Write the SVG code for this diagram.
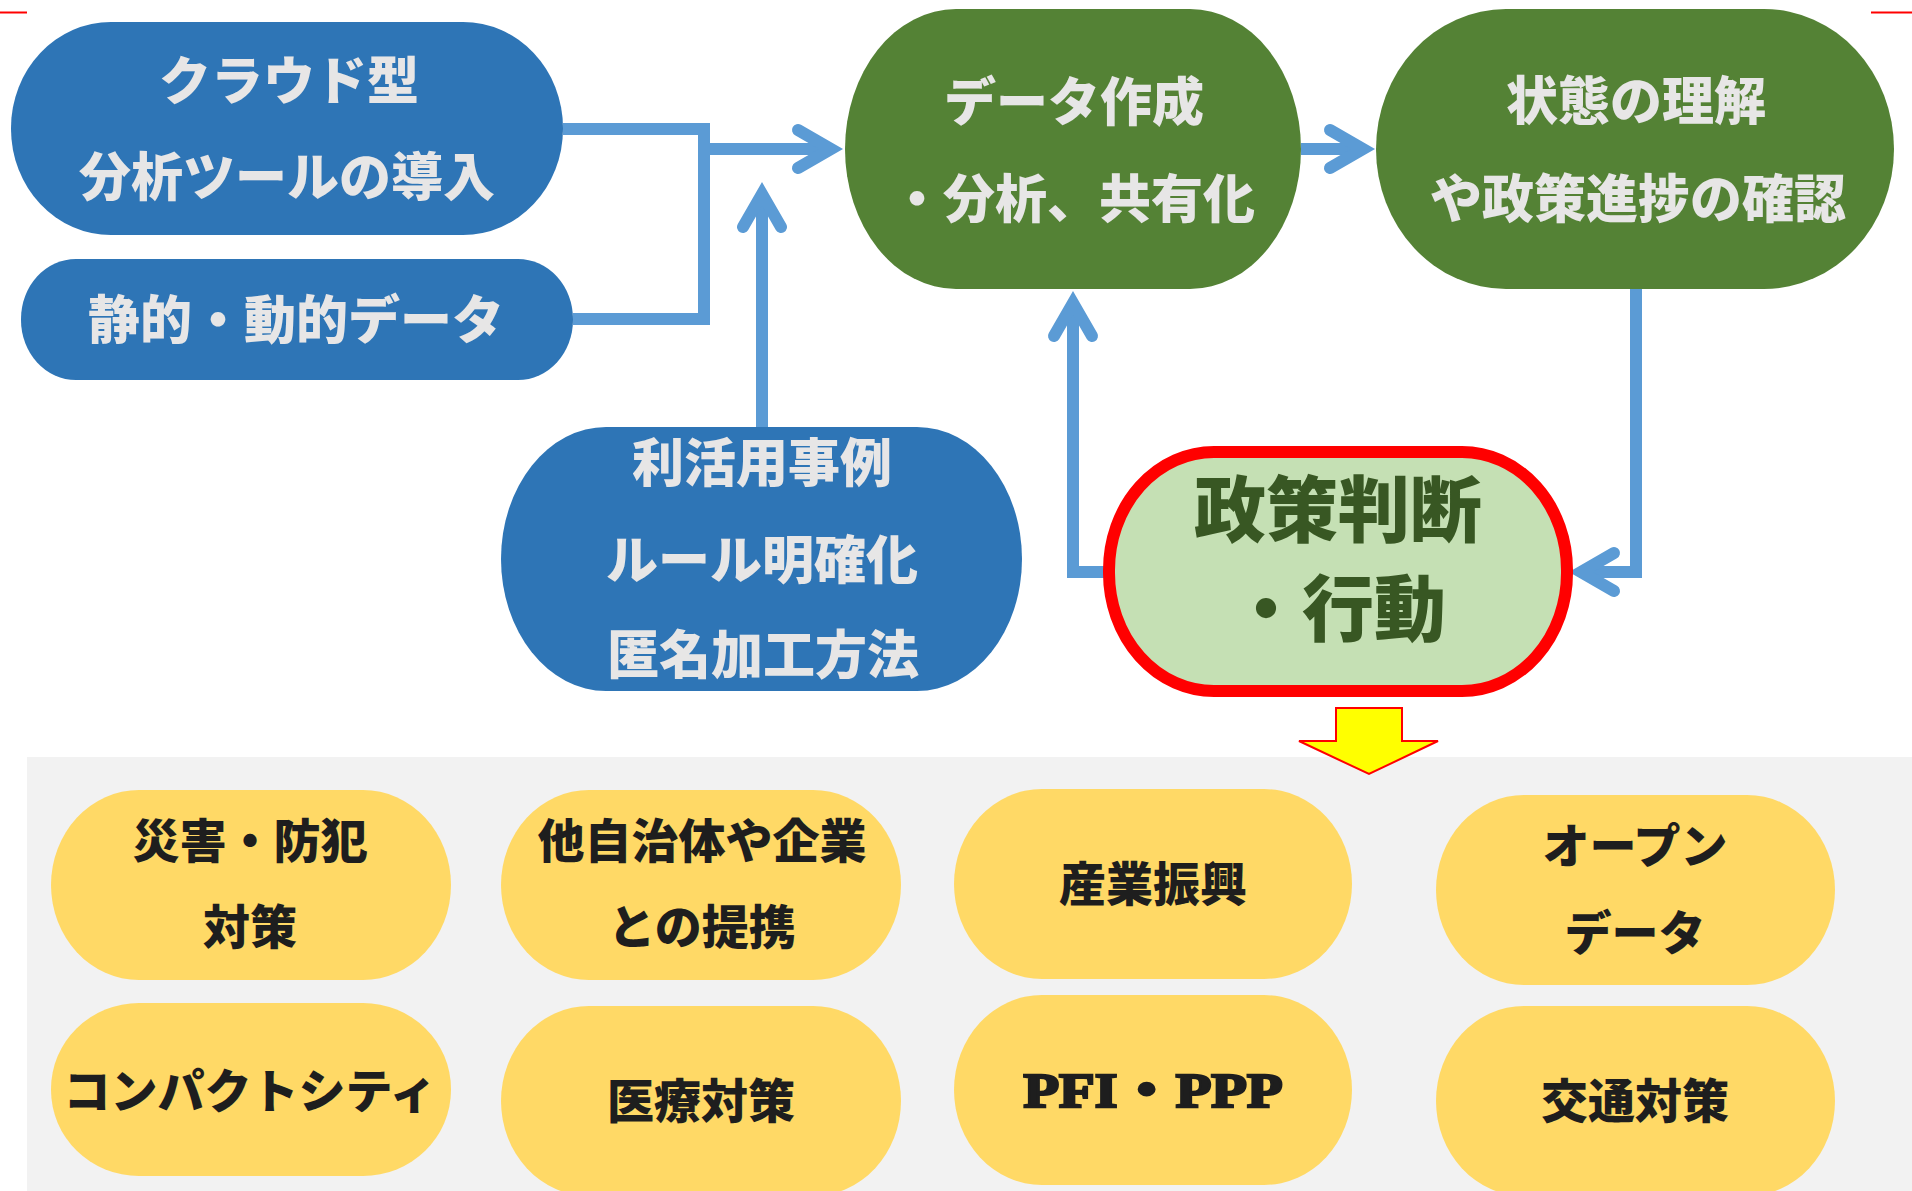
<svg xmlns="http://www.w3.org/2000/svg" width="1912" height="1191" viewBox="0 0 1912 1191">
<style>
.t{font-family:"Noto Sans CJK JP","Noto Sans CJK SC",sans-serif;font-weight:900;text-anchor:middle}
.w{fill:#E7E6E6;font-size:52px}
.k{fill:#1E1E1E;font-size:47px}
.blue{fill:#2E75B6}
.green{fill:#548235}
.yel{fill:#FFD966}
.con{fill:none;stroke:#5B9BD5;stroke-width:12;stroke-linejoin:miter}
</style>
<defs>
<marker id="chev" markerUnits="userSpaceOnUse" viewBox="-70 -40 90 80" refX="-12" refY="0" markerWidth="90" markerHeight="80" orient="auto" overflow="visible">
<polyline points="-46,-19 -13,0 -46,19" fill="none" stroke="#5B9BD5" stroke-width="12" stroke-linecap="round" stroke-linejoin="miter"/>
</marker>
</defs>
<rect x="0" y="0" width="1912" height="1191" fill="#FFFFFF"/>
<line x1="0" y1="12.5" x2="27" y2="12.5" stroke="#FF0000" stroke-width="2"/>
<line x1="1871" y1="12.5" x2="1912" y2="12.5" stroke="#FF0000" stroke-width="2"/>
<rect x="27" y="757" width="1885" height="434" fill="#F2F2F2"/>

<g id="connectors">
<path class="con" d="M563,129 H704 V319 H573"/>
<path class="con" d="M710,149 H832" marker-end="url(#chev)"/>
<path class="con" d="M762,427 V193" marker-end="url(#chev)"/>
<path class="con" d="M1301,149 H1364" marker-end="url(#chev)"/>
<path class="con" d="M1636,289 V572 H1580" marker-end="url(#chev)"/>
<path class="con" d="M1108,572 H1073 V302" marker-end="url(#chev)"/>
<polygon points="1336,708 1402,708 1402,741 1438,741 1369,774 1299,741 1336,741" fill="#FFFF00" stroke="#FF0000" stroke-width="2"/>
</g>

<g id="node-cloud">
<rect class="blue" x="11" y="22" width="552" height="213" rx="100" ry="106"/>
<text class="t w" x="289" y="100">クラウド型</text>
<text class="t w" x="287" y="196">分析ツールの導入</text>
</g>
<g id="node-data">
<rect class="blue" x="21" y="259" width="552" height="121" rx="55" ry="60"/>
<text class="t w" x="296" y="339">静的・動的データ</text>
</g>
<g id="node-rules">
<rect class="blue" x="501" y="427" width="521" height="264" rx="105" ry="132"/>
<text class="t w" x="762" y="482">利活用事例</text>
<text class="t w" x="762" y="579">ルール明確化</text>
<text class="t w" x="763" y="674">匿名加工方法</text>
</g>
<g id="node-create">
<rect class="green" x="845" y="9" width="456" height="280" rx="111" ry="140"/>
<text class="t w" x="1074" y="121">データ作成</text>
<text class="t w" x="1073" y="218">・分析、共有化</text>
</g>
<g id="node-understand">
<rect class="green" x="1376" y="9" width="518" height="280" rx="130" ry="140"/>
<text class="t w" x="1636" y="120">状態の理解</text>
<text class="t w" x="1638" y="218">や政策進捗の確認</text>
</g>
<g id="node-policy">
<rect x="1109" y="452" width="458" height="239" rx="105" ry="118" fill="#C5E0B4" stroke="#FF0000" stroke-width="12"/>
<text class="t" x="1338" y="536" fill="#385723" font-size="72">政策判断</text>
<text class="t" x="1338" y="635" fill="#385723" font-size="72">・行動</text>
</g>

<g id="node-disaster">
<rect class="yel" x="51" y="790" width="400" height="190" rx="88" ry="95"/>
<text class="t k" x="250" y="858">災害・防犯</text>
<text class="t k" x="250" y="944">対策</text>
</g>
<g id="node-partner">
<rect class="yel" x="501" y="790" width="400" height="190" rx="88" ry="95"/>
<text class="t k" x="702" y="858">他自治体や企業</text>
<text class="t k" x="702" y="944">との提携</text>
</g>
<g id="node-industry">
<rect class="yel" x="954" y="789" width="398" height="190" rx="88" ry="95"/>
<text class="t k" x="1153" y="901">産業振興</text>
</g>
<g id="node-opendata">
<rect class="yel" x="1436" y="795" width="399" height="190" rx="88" ry="95"/>
<text class="t k" x="1635" y="863">オープン</text>
<text class="t k" x="1635" y="950">データ</text>
</g>
<g id="node-compact">
<rect class="yel" x="51" y="1003" width="400" height="173" rx="88" ry="86"/>
<text class="t k" x="250" y="1108">コンパクトシティ</text>
</g>
<g id="node-medical">
<rect class="yel" x="501" y="1006" width="400" height="190" rx="88" ry="95"/>
<text class="t k" x="701" y="1118">医療対策</text>
</g>
<g id="node-pfi">
<rect class="yel" x="954" y="995" width="398" height="190" rx="88" ry="95"/>
<text x="1153" y="1107" text-anchor="middle" font-family="'Liberation Serif','Noto Sans CJK JP',serif" font-weight="bold" font-size="48" fill="#1E1E1E" stroke="#1E1E1E" stroke-width="2.5" textLength="259" lengthAdjust="spacingAndGlyphs">PFI・PPP</text>
</g>
<g id="node-traffic">
<rect class="yel" x="1436" y="1006" width="399" height="190" rx="88" ry="95"/>
<text class="t k" x="1635" y="1118">交通対策</text>
</g>
</svg>
